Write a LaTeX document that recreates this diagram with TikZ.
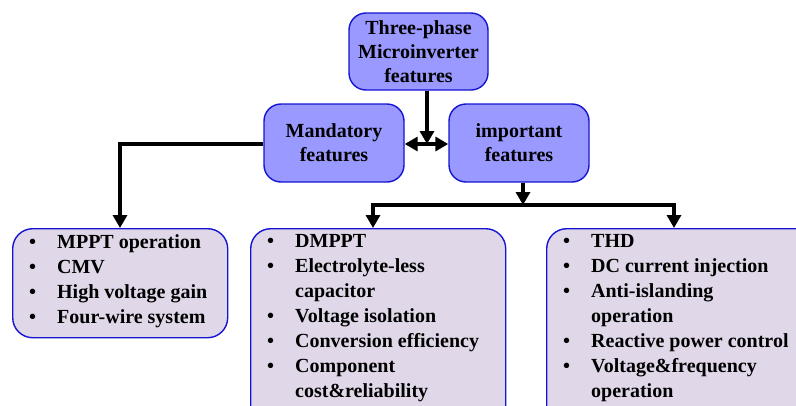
\documentclass[tikz,border=0pt]{standalone}
\usepackage{fontspec}
\setmainfont{Liberation Serif}
\usetikzlibrary{arrows.meta}
\definecolor{headfill}{RGB}{153,153,255}
\definecolor{listfill}{RGB}{224,216,232}
\definecolor{edgeblue}{RGB}{20,20,210}
\newcommand{\bitem}[1]{\makebox[28pt][l]{\textbullet}#1\\}
\newcommand{\bcont}[1]{\hspace*{28pt}#1\\}
\begin{document}
\begin{tikzpicture}[x=1pt,y=-1pt,
  headbox/.style={draw=edgeblue,line width=1.4pt,fill=headfill,rounded corners=17pt,
    font=\fontsize{20}{24}\selectfont\bfseries,align=center,inner sep=0pt},
  listbox/.style={draw=edgeblue,line width=1.4pt,fill=listfill,rounded corners=20pt,inner sep=0pt},
  listtext/.style={font=\fontsize{20}{25}\selectfont\bfseries,align=left,anchor=north west,inner sep=0pt},
  link/.style={line width=3.5pt},
  tip/.style={-{Triangle[length=13pt,width=14pt]}}]
\useasboundingbox (0,0) rectangle (796,405);
\clip (0,0) rectangle (796,405);

% heading boxes
\node[headbox,minimum width=139pt,minimum height=77pt] (root) at (418.5,51.5)
  {Three-phase\\Microinverter\\features};
\node[headbox,minimum width=140pt,minimum height=78pt] (mand) at (334,143)
  {Mandatory\\features};
\node[headbox,minimum width=140pt,minimum height=78pt] (imp) at (519,143)
  {important\\features};

% list boxes (the two right ones run past the page edge)
\node[listbox,minimum width=215pt,minimum height=109pt,anchor=north west] (lbox) at (12,228) {};
\node[listbox,minimum width=255pt,minimum height=200pt,anchor=north west] (mbox) at (250,228) {};
\node[listbox,minimum width=280pt,minimum height=200pt,anchor=north west] (rbox) at (546,228) {};

\node[listtext] (ltext) at (29,234)
  {\bitem{MPPT operation}\bitem{CMV}\bitem{High voltage gain}\bitem{Four-wire system}};
\node[listtext] (mtext) at (267,234)
  {\bitem{DMPPT}\bitem{Electrolyte-less}\bcont{capacitor}\bitem{Voltage isolation}%
   \bitem{Conversion efficiency}\bitem{Component}\bcont{cost\&reliability}};
\node[listtext] (rtext) at (563,234)
  {\bitem{THD}\bitem{DC current injection}\bitem{Anti-islanding}\bcont{operation}%
   \bitem{Reactive power control}\bitem{Voltage\&frequency}\bcont{operation}};

% connectors
\coordinate (mid) at (427,144);
\coordinate (split) at (523,205);
\draw[link,tip] (root.south -| mid) -- (mid);
\draw[link,{Triangle[length=13pt,width=14pt]}-{Triangle[length=13pt,width=14pt]}]
  (mand.east |- mid) -- (imp.west |- mid);
\draw[link,tip] (mand.west |- 0,144) -| (lbox.north -| 120,0);
\draw[link,tip] (imp.south -| split) -- (split);
\draw[link,tip] (split) -| (mbox.north -| 373,0);
\draw[link,tip] (split) -| (rbox.north -| 674,0);
\end{tikzpicture}
\end{document}
